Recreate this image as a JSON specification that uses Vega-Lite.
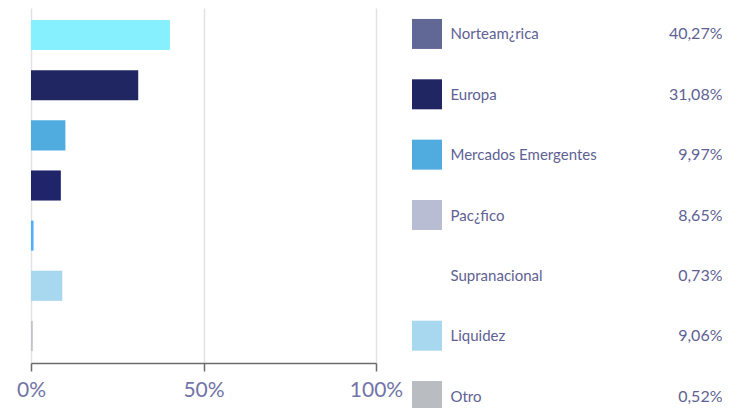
{
  "$schema": "https://vega.github.io/schema/vega-lite/v6.json",
  "padding": {"left": 16, "top": 8, "right": 0, "bottom": 0},
  "background": "white",
  "config": {
    "view": {"stroke": null},
    "font": "Lato",
    "concat": {"spacing": 36}
  },
  "datasets": {
    "alloc": [
      {"region": "Norteam¿rica", "value": 40.27, "label": "40,27%"},
      {"region": "Europa", "value": 31.08, "label": "31,08%"},
      {"region": "Mercados Emergentes", "value": 9.97, "label": "9,97%"},
      {"region": "Pac¿fico", "value": 8.65, "label": "8,65%"},
      {"region": "Supranacional", "value": 0.73, "label": "0,73%"},
      {"region": "Liquidez", "value": 9.06, "label": "9,06%"},
      {"region": "Otro", "value": 0.52, "label": "0,52%"}
    ]
  },
  "bounds": "flush",
  "hconcat": [
    {
      "width": 345,
      "height": 355,
      "data": {"name": "alloc"},
      "mark": {"type": "bar"},
      "encoding": {
        "y": {
          "field": "region",
          "type": "nominal",
          "sort": null,
          "axis": null,
          "scale": {"paddingInner": 0.4, "paddingOuter": 0.24}
        },
        "x": {
          "field": "value",
          "type": "quantitative",
          "scale": {"domain": [0, 100]},
          "axis": {
            "values": [0, 50, 100],
            "labelExpr": "datum.value + '%'",
            "title": null,
            "grid": true,
            "gridColor": "#e2e2e2",
            "gridWidth": 1.5,
            "domainColor": "#6b6b6b",
            "domainWidth": 1.5,
            "tickColor": "#6b6b6b",
            "tickWidth": 1.5,
            "tickSize": 8,
            "labelFontSize": 21,
            "labelColor": "#7174a6",
            "labelPadding": 8,
            "labelFlush": false
          }
        },
        "color": {
          "field": "region",
          "type": "nominal",
          "legend": null,
          "scale": {
            "domain": ["Norteam¿rica", "Europa", "Mercados Emergentes", "Pac¿fico", "Supranacional", "Liquidez", "Otro"],
            "range": ["#86f0fe", "#1f2662", "#50acdf", "#20246b", "#4db0ff", "#a8d8ef", "#c1c3c9"]
          }
        }
      }
    },
    {
      "width": 30,
      "height": 414,
      "data": {"name": "alloc"},
      "mark": {"type": "square", "size": 900, "opacity": 1},
      "encoding": {
        "y": {
          "field": "region",
          "type": "nominal",
          "sort": null,
          "scale": {"type": "point", "padding": 0.43},
          "axis": {
            "orient": "right",
            "title": null,
            "domain": false,
            "ticks": false,
            "tickSize": 0,
            "labelPadding": 8,
            "labelFontSize": 15,
            "labelColor": "#5e6194",
            "labelLimit": 300
          }
        },
        "color": {
          "field": "region",
          "type": "nominal",
          "legend": null,
          "scale": {
            "domain": ["Norteam¿rica", "Europa", "Mercados Emergentes", "Pac¿fico", "Supranacional", "Liquidez", "Otro"],
            "range": ["#626896", "#1f2662", "#50acdf", "#b9bdd4", "#ffffff", "#a8d8ef", "#b9bcc1"]
          }
        }
      }
    },
    {
      "width": 244,
      "height": 414,
      "data": {"name": "alloc"},
      "mark": {"type": "point", "opacity": 0},
      "encoding": {
        "y": {
          "field": "label",
          "type": "nominal",
          "sort": null,
          "scale": {"type": "point", "padding": 0.43},
          "axis": {
            "orient": "right",
            "title": null,
            "domain": false,
            "ticks": false,
            "tickSize": 0,
            "labelPadding": 0,
            "labelAlign": "right",
            "labelFontSize": 16,
            "labelColor": "#5e6194"
          }
        }
      }
    }
  ],
  "resolve": {"scale": {"color": "independent", "y": "independent"}}
}
